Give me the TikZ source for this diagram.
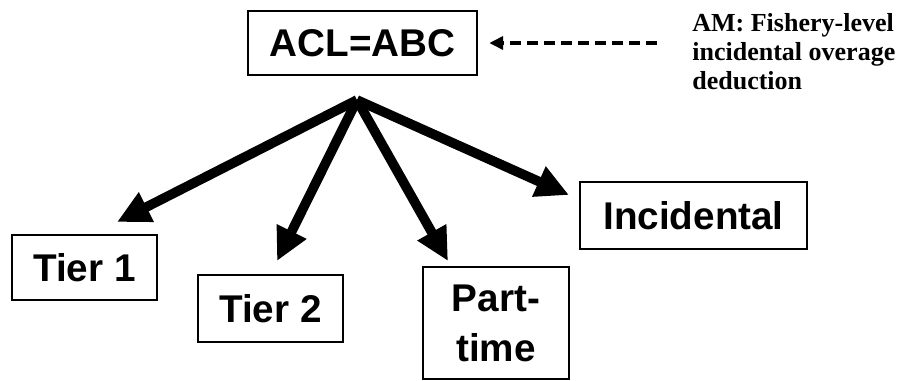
\documentclass[tikz,border=0pt]{standalone}
\usepackage{fontspec}
\setmainfont{Liberation Serif}
\setsansfont{Liberation Sans}
\usetikzlibrary{arrows.meta}

\tikzset{
  catbox/.style={draw, line width=1.4pt, inner sep=0pt, align=center,
    font=\sffamily\bfseries\fontsize{22}{28.5}\selectfont},
  amnote/.style={inner sep=0pt, align=left,
    font=\bfseries\fontsize{14.8}{16.4}\selectfont},
  bigarrow/.style={line width=5.5pt, -{Triangle[length=0.66cm,width=0.62cm]}},
  amarrow/.style={line width=2pt, dash pattern=on 0.22cm off 0.12cm,
    -{Triangle[length=0.28cm,width=0.26cm]}, shorten >=0.22cm},
}

\begin{document}
\begin{tikzpicture}[x=0.02cm, y=-0.02cm]
\useasboundingbox (0,0) rectangle (904,380);

% top box and the note
\node[catbox, minimum width=4.58cm, minimum height=1.28cm] (acl) at (362.5,43) {ACL=ABC};
\node[amnote, anchor=north west] (am) at (692,13) {AM: Fishery-level\\incidental overage\\deduction};
\coordinate (amstart) at (657,43);
\draw[amarrow] (amstart) -- (acl.east);

% sectors
\node[catbox, minimum width=2.9cm, minimum height=1.3cm] (tier1) at (84.5,267.5) {Tier 1};
\node[catbox, minimum width=2.9cm, minimum height=1.34cm] (tier2) at (270.5,308.5) {Tier 2};
\node[catbox, minimum width=2.92cm, minimum height=2.24cm] (part) at (496,323) {Part-\\time};
\node[catbox, minimum width=4.54cm, minimum height=1.34cm] (incid) at (693.5,215.5) {Incidental};

\coordinate (hub) at (357,100);
\coordinate (tip1) at (117,222);
\coordinate (tip2) at (277,261);
\coordinate (tip3) at (448,261);
\coordinate (tip4) at (569,195);
\foreach \t in {tip1,tip2,tip3,tip4}
  \draw[bigarrow] (hub) -- (\t);
\end{tikzpicture}
\end{document}
